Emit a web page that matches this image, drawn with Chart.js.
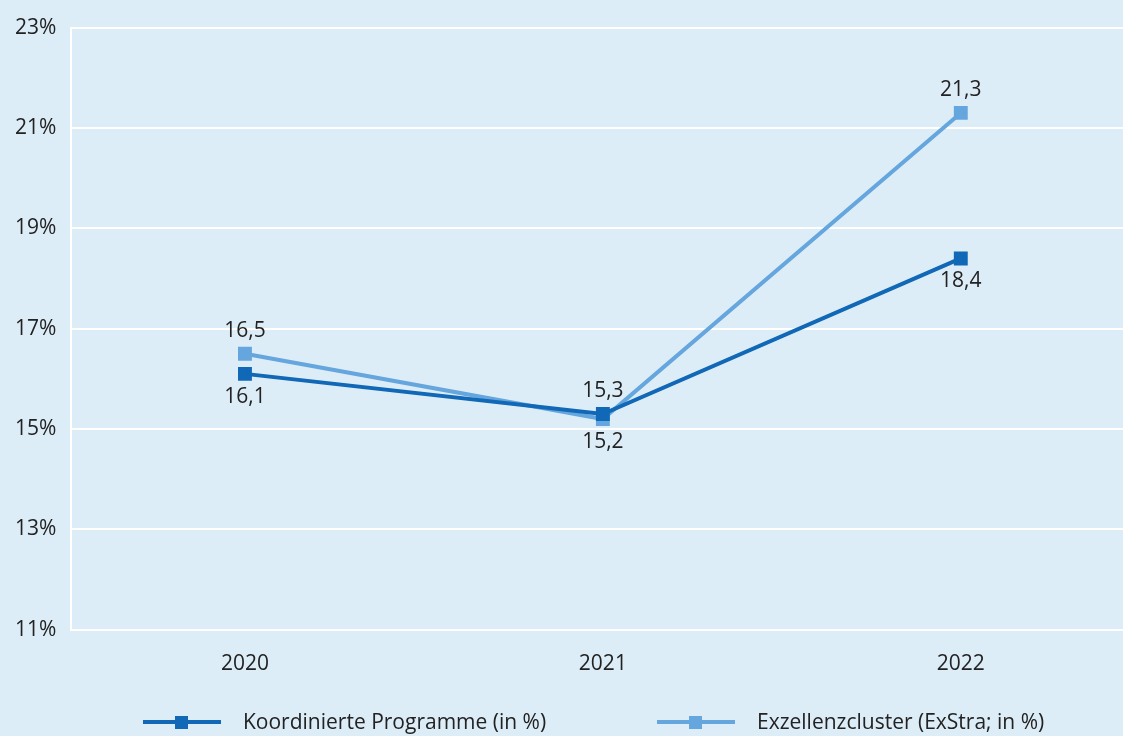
<!DOCTYPE html>
<html lang="de">
<head>
    <meta charset="UTF-8">
    <title>Anteil Koordinierte Programme / Exzellenzcluster</title>
    <script src="https://cdn.jsdelivr.net/npm/chart.js"></script>
    <style>
        html, body { margin: 0; padding: 0; overflow: hidden; background: #ddedf7; }
        #wrap { position: relative; width: 1140px; height: 736px; }
    </style>
</head>
<body>
    <div id="wrap">
        <canvas id="myChart"></canvas>
    </div>

    <script>
        // Data
        const years = ['2020', '2021', '2022'];
        const koordinierte = [16.1, 15.3, 18.4];
        const exzellenz = [16.5, 15.2, 21.3];
        const seriesNames = ['Koordinierte Programme (in %)', 'Exzellenzcluster (ExStra; in %)'];
        // label above (-1) or below (+1) each point
        const koordLabelSide = [1, -1, 1];
        const exzLabelSide = [-1, 1, -1];

        const darkBlue = '#1068b6';
        const lightBlue = '#64a6dd';
        const fontFamily = "'Open Sans', 'Noto Sans', sans-serif";

        // year index on a linear x axis so the spacing can be tuned
        const toPoints = arr => arr.map((v, i) => ({ x: i, y: v }));

        const data = {
            datasets: [{
                label: seriesNames[0],
                data: toPoints(koordinierte),
                borderColor: darkBlue,
                backgroundColor: darkBlue,
                borderWidth: 4,
                pointStyle: 'rect',
                pointRadius: 7,
                labelSide: koordLabelSide,
                order: 1
            }, {
                label: seriesNames[1],
                data: toPoints(exzellenz),
                borderColor: lightBlue,
                backgroundColor: lightBlue,
                borderWidth: 4,
                pointStyle: 'rect',
                pointRadius: 7,
                labelSide: exzLabelSide,
                order: 2
            }]
        };

        // value labels next to each point
        const valueLabels = {
            id: 'valueLabels',
            afterDatasetsDraw(chart) {
                const ctx = chart.ctx;
                ctx.save();
                ctx.font = '21px ' + fontFamily;
                ctx.fillStyle = '#222222';
                ctx.textAlign = 'center';
                ctx.textBaseline = 'middle';
                chart.data.datasets.forEach((ds, i) => {
                    chart.getDatasetMeta(i).data.forEach((pt, j) => {
                        const txt = ds.data[j].y.toFixed(1).replace('.', ',');
                        ctx.fillText(txt, pt.x, pt.y + ds.labelSide[j] * 23);
                    });
                });
                ctx.restore();
            }
        };

        // legend below the axis: line with square marker, then name
        const lineLegend = {
            id: 'lineLegend',
            afterDraw(chart) {
                const ctx = chart.ctx;
                const y = 722;
                const starts = [143, 657];
                ctx.save();
                ctx.font = '21px ' + fontFamily;
                ctx.textBaseline = 'middle';
                chart.data.datasets.forEach((ds, i) => {
                    const x0 = starts[i];
                    ctx.strokeStyle = ds.borderColor;
                    ctx.lineWidth = 4;
                    ctx.beginPath();
                    ctx.moveTo(x0, y);
                    ctx.lineTo(x0 + 78, y);
                    ctx.stroke();
                    ctx.fillStyle = ds.backgroundColor;
                    ctx.fillRect(x0 + 32, y - 6, 13, 13);
                    ctx.fillStyle = '#222222';
                    ctx.fillText(ds.label, x0 + 100, y + 1);
                });
                ctx.restore();
            }
        };

        const config = {
            type: 'line',
            data,
            options: {
                responsive: true,
                maintainAspectRatio: false,
                animation: false,
                layout: { padding: { top: 8, bottom: 37, left: 0, right: 0 } },
                scales: {
                    x: {
                        type: 'linear',
                        min: -0.485,
                        max: 2.47,
                        afterBuildTicks: axis => { axis.ticks = years.map((_, i) => ({ value: i })); },
                        grid: { display: false, drawTicks: false },
                        border: { display: false },
                        ticks: {
                            color: '#222222',
                            font: { size: 21, family: fontFamily },
                            padding: 22,
                            callback: v => years[v]
                        }
                    },
                    y: {
                        min: 11,
                        max: 23,
                        ticks: {
                            stepSize: 2,
                            color: '#222222',
                            padding: 15,
                            font: { size: 21, family: fontFamily },
                            callback: v => v + '%'
                        },
                        grid: { color: '#ffffff', lineWidth: 2, drawTicks: false },
                        border: { display: true, color: '#ffffff', width: 2 }
                    }
                },
                plugins: {
                    legend: { display: false },
                    tooltip: { enabled: false }
                }
            },
            plugins: [valueLabels, lineLegend]
        };

        const myChart = new Chart(document.getElementById('myChart'), config);
    </script>
</body>
</html>
